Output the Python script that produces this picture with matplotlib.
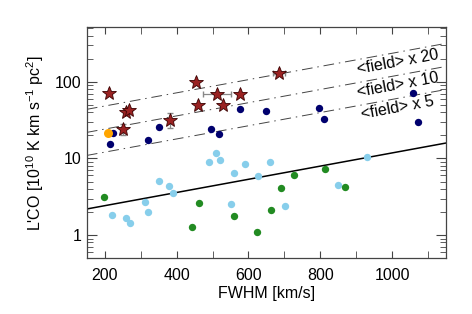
import numpy as np
import matplotlib
matplotlib.use("Agg")
import matplotlib.pyplot as plt
from matplotlib.ticker import FixedLocator, NullFormatter, MultipleLocator

# ==========================================================
# DATA
# ==========================================================
# Red stars (with a few error bars)
star_fwhm = [213, 259, 266, 252, 382, 454, 459, 513, 528, 576, 685]
star_lco = [71, 40, 43, 24.3, 31.9, 99, 50, 70, 50, 70, 130]
star_xerr = [0, 0, 0, 0, 0, 0, 0, 39, 0, 0, 18]
star_yerr = [0, 0, 0, 4, 7, 0, 0, 0, 0, 0, 0]

# Orange point
orange_fwhm = [210]
orange_lco = [21.3]

# Navy points
navy_fwhm = [222, 215, 319, 350, 496, 518, 576, 649, 795, 811, 1058, 1073]
navy_lco = [21.5, 15.3, 17.5, 25.6, 24.3, 20.7, 44.4, 41.8, 45.7, 32.5, 71, 29.7]

# Light blue points
sky_fwhm = [220, 260, 271, 311, 320, 350, 380, 390, 490, 509, 521, 590,
            661, 560, 626, 550, 701, 931, 850]
sky_lco = [1.85, 1.68, 1.42, 2.72, 2.02, 5.08, 4.37, 3.57, 9.08, 11.8, 9.55,
           8.47, 9.08, 6.41, 5.85, 2.54, 2.42, 10.4, 4.5]

# Green points
green_fwhm = [198, 461, 443, 561, 624, 662, 691, 726, 813, 870]
green_lco = [3.11, 2.64, 1.26, 1.79, 1.10, 2.14, 4.15, 6.03, 7.22, 4.28]

# Field relation (end points) and its multiples
field_fwhm = [150, 1150]
field_lco = [2.19, 15.9]
multiples = [20, 10, 5]
label_fwhm = 1015

# ==========================================================
# STYLE
# ==========================================================
plt.rcParams["font.family"] = ["Liberation Sans", "DejaVu Sans"]
plt.rcParams["mathtext.fontset"] = "custom"
plt.rcParams["mathtext.rm"] = "Liberation Sans"
plt.rcParams["mathtext.it"] = "Liberation Sans"

fig = plt.figure(figsize=(4.72, 3.14), dpi=100)
ax = fig.add_axes([0.184, 0.178, 0.761, 0.736])

# ==========================================================
# LINES
# ==========================================================
ax.plot(field_fwhm, field_lco, color="black", lw=1.1, zorder=2)

def field_at(v):
    lx = np.log10(field_lco)
    return 10 ** np.interp(v, field_fwhm, lx)

for m in multiples:
    ax.plot(field_fwhm, [y * m for y in field_lco], color="#444444", lw=0.7,
            dashes=(11, 5, 1.5, 5), zorder=2)
    ax.annotate(f"<field> x {m}", xy=(label_fwhm, field_at(label_fwhm) * m),
                xytext=(0, -7), textcoords="offset points",
                ha="center", va="center", rotation=10.5, fontsize=11.5)

# ==========================================================
# POINTS
# ==========================================================
ms = 5.3
ax.plot(sky_fwhm, sky_lco, "o", color="#87CEEB", ms=ms, mec="none", zorder=3)
ax.plot(green_fwhm, green_lco, "o", color="#228B22", ms=ms, mec="none", zorder=3)
ax.plot(navy_fwhm, navy_lco, "o", color="#00006E", ms=ms, mec="none", zorder=3)
ax.plot(orange_fwhm, orange_lco, "o", color="#FFA500", ms=ms + 1.2, mec="none", zorder=3)

ax.errorbar(star_fwhm, star_lco,
            xerr=star_xerr, yerr=star_yerr,
            fmt="none", ecolor="#888888", elinewidth=0.9, capsize=2, zorder=3)
ax.plot(star_fwhm, star_lco, "*", color="#9A2222", ms=10, mec="#3a0000",
        mew=0.6, zorder=4)

# ==========================================================
# AXES
# ==========================================================
ax.set_yscale("log")
ax.set_xlim(150, 1150)
ax.set_ylim(0.5, 520)

ax.xaxis.set_major_locator(FixedLocator([200, 400, 600, 800, 1000]))
ax.xaxis.set_minor_locator(MultipleLocator(100))
ax.yaxis.set_major_locator(FixedLocator([1, 10, 100]))
ax.set_yticklabels(["1", "10", "100"])
ax.yaxis.set_minor_locator(FixedLocator(
    [k * 10.0 ** e for e in range(-1, 3) for k in range(2, 10)]))
ax.yaxis.set_minor_formatter(NullFormatter())

ax.tick_params(which="both", direction="in", top=True, right=True,
               color="#444444", labelsize=11.5)
ax.tick_params(axis="x", which="major", length=5, pad=7)
ax.tick_params(axis="x", which="minor", length=5)
ax.tick_params(axis="y", which="major", length=7, pad=4)
ax.tick_params(axis="y", which="minor", length=4)
for s in ax.spines.values():
    s.set_color("#444444")
    s.set_linewidth(0.9)

ax.set_xlabel("FWHM [km/s]", fontsize=11.5, labelpad=2)
ax.set_ylabel("L'CO [10$^{10}$ K km s$^{-1}$ pc$^{2}$]", fontsize=11.5, labelpad=6)

fig.savefig("out.png", dpi=100)
